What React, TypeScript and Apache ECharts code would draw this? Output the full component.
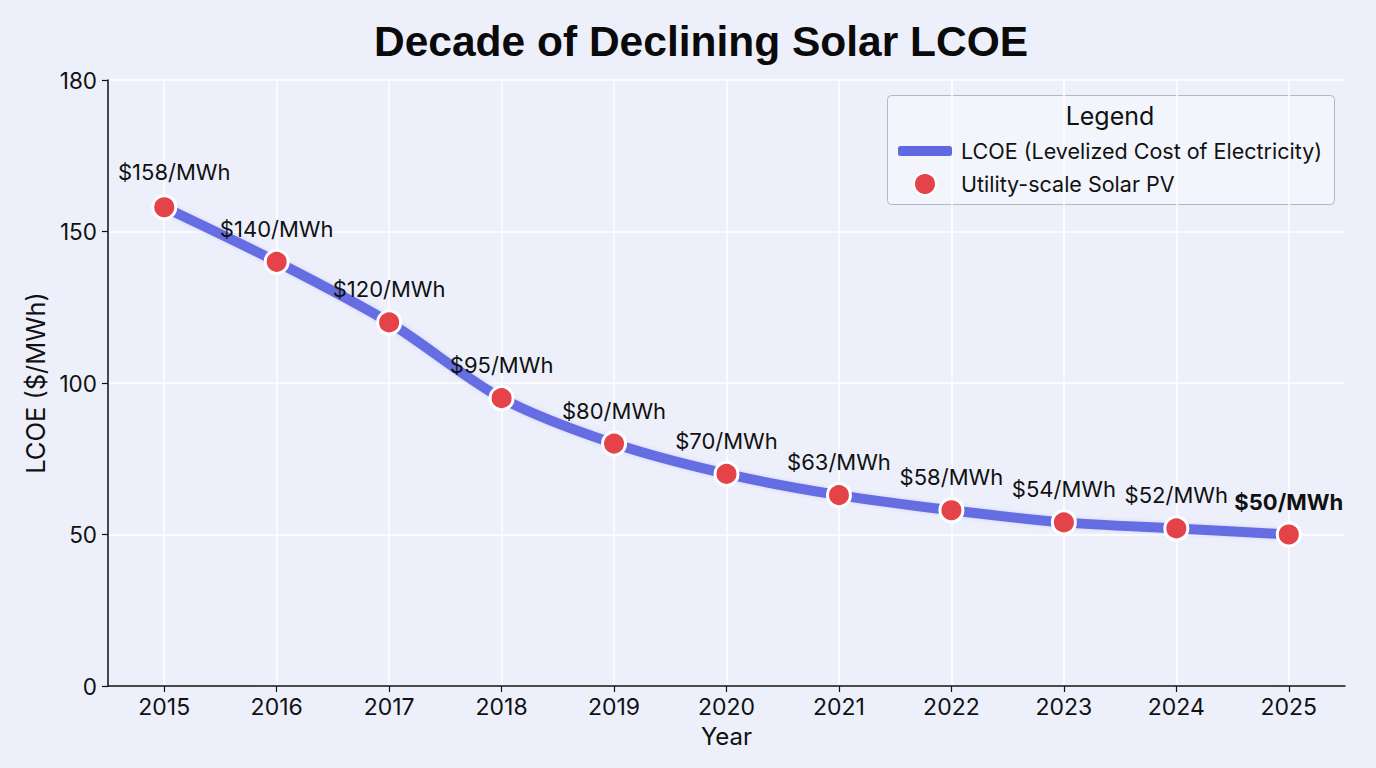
import React, { useEffect, useRef } from "react";
import * as echarts from "echarts";

const years = ["2015", "2016", "2017", "2018", "2019", "2020", "2021", "2022", "2023", "2024", "2025"];
const lcoeValues = [158, 140, 120, 95, 80, 70, 63, 58, 54, 52, 50];
const yTickValues = [0, 50, 100, 150, 200];
const yTickLabels = ["0", "50", "100", "150", "180"];
const lineName = "LCOE (Levelized Cost of Electricity)";
const pointName = "Utility-scale Solar PV";

const FONT = "Inter, 'Noto Sans', sans-serif";

export default function App() {
  const ref = useRef<HTMLDivElement>(null);
  useEffect(() => {
    document.body.style.margin = "0";
    if (!ref.current) return;
    const chart = echarts.init(ref.current, undefined, { renderer: "svg" });
    const last = lcoeValues.length - 1;
    const option = {
      animation: false,
      backgroundColor: "#edf0fb",
      textStyle: { fontFamily: FONT },
      title: {
        text: "Decade of Declining Solar LCOE",
        left: 369,
        top: 15,
        textStyle: { fontFamily: "'Liberation Sans', Arial, sans-serif", fontSize: 42.5, fontWeight: "bold", color: "#0a0a0a" },
      },
      grid: { left: 108, right: 31, top: 80, bottom: 82, containLabel: false },
      xAxis: {
        type: "category",
        data: years,
        boundaryGap: true,
        name: "Year",
        nameLocation: "middle",
        nameGap: 38,
        nameTextStyle: { fontSize: 24, color: "#111", fontFamily: FONT },
        axisLine: { show: true, lineStyle: { color: "#111", width: 1.5 } },
        axisTick: { show: true, alignWithLabel: true, length: 6, lineStyle: { color: "#111", width: 1.2 } },
        axisLabel: { fontSize: 23, color: "#111", margin: 9, fontFamily: FONT },
        splitLine: { show: true, alignWithLabel: true, lineStyle: { color: "#ffffff", width: 1.5 } },
      },
      yAxis: {
        type: "value",
        min: 0,
        max: 200,
        interval: 50,
        name: "LCOE ($/MWh)",
        nameLocation: "middle",
        nameGap: 60,
        nameTextStyle: { fontSize: 25.5, color: "#111", fontFamily: FONT },
        axisLine: { show: true, lineStyle: { color: "#111", width: 1.5 } },
        axisTick: { show: true, length: 6, lineStyle: { color: "#111", width: 1.2 } },
        axisLabel: {
          fontSize: 22.5,
          color: "#111",
          margin: 11,
          fontFamily: FONT,
          formatter: (v: number) => {
            const i = yTickValues.indexOf(v);
            return i >= 0 ? yTickLabels[i] : String(v);
          },
        },
        splitLine: { show: true, lineStyle: { color: "#ffffff", width: 1.5 } },
      },
      legend: [
        {
          data: [{ name: lineName, icon: "roundRect" }],
          left: 893,
          top: 135,
          itemWidth: 54,
          itemHeight: 10,
          textStyle: { fontSize: 21.5, color: "#111", fontFamily: FONT, padding: [0, 0, 0, 4] },
        },
        {
          data: [{ name: pointName, icon: "circle" }],
          left: 908,
          top: 167,
          itemWidth: 22,
          itemHeight: 22,
          textStyle: { fontSize: 21.5, color: "#111", fontFamily: FONT, padding: [0, 0, 0, 20] },
        },
      ],
      graphic: [
        {
          type: "rect",
          left: 887,
          top: 95,
          shape: { width: 447, height: 109, r: 4 },
          style: { fill: "rgba(255,255,255,0.35)", stroke: "#b4b7c2", lineWidth: 1 },
          z: 0,
        },
        {
          type: "text",
          x: 1110,
          y: 116,
          style: { text: "Legend", fontSize: 25, fill: "#111", fontFamily: FONT, align: "center", verticalAlign: "middle" },
          z: 1,
        },
      ],
      series: [
        {
          name: lineName,
          type: "line",
          data: lcoeValues,
          smooth: 0.3,
          showSymbol: false,
          symbol: "none",
          lineStyle: { color: "#5a62e0", width: 10, opacity: 0.9, shadowColor: "rgba(90,98,224,0.25)", shadowBlur: 4 },
          itemStyle: { color: "#6068e3" },
          z: 2,
        },
        {
          name: pointName,
          type: "scatter",
          data: lcoeValues.map((v, i) =>
            i === last
              ? { value: v, label: { fontWeight: "bold" } }
              : i === 0
              ? { value: v, label: { offset: [10, -2] } }
              : v
          ),
          symbolSize: 23,
          itemStyle: { color: "#e5434a", borderColor: "#ffffff", borderWidth: 3, opacity: 1 },
          label: {
            show: true,
            position: "top",
            distance: 9,
            fontSize: 22,
            color: "#111",
            fontFamily: FONT,
            formatter: (p: any) => `$${p.value}/MWh`,
          },
          z: 3,
        },
      ],
    };
    chart.setOption(option as any);
    return () => chart.dispose();
  }, []);
  return <div ref={ref} style={{ width: 1376, height: 768 }} />;
}
